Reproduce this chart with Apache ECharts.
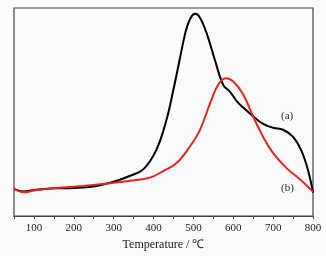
<!DOCTYPE html>
<html>
<head>
<meta charset="utf-8">
<script src="https://cdn.jsdelivr.net/npm/echarts@6/dist/echarts.min.js"></script>
<style>
  html, body { margin: 0; padding: 0; background: #fbfbfb; }
  #main { width: 326px; height: 256px; }
</style>
</head>
<body>
<div id="main"></div>
<script>
// temperatures (℃) and read-off signal (arbitrary units)
var tempA = [50, 75, 100, 150, 200, 250, 300, 340, 375, 407, 432, 449, 466, 480, 492, 505, 518, 535, 553, 575, 591, 608, 625, 650, 675, 700, 725, 750, 770, 787, 800];
var sigA  = [27.7, 25, 26.7, 28.3, 28.7, 30.3, 35, 41, 48, 67.7, 97.7, 127.7, 161, 188, 202, 207, 202, 185, 161, 134, 127.7, 118, 111, 102, 94.3, 90.3, 88.3, 81, 67.7, 47.7, 24];
var tempB = [50, 75, 100, 150, 200, 250, 300, 341, 391, 424, 458, 491, 516, 541, 562, 581, 600, 625, 650, 675, 700, 733, 767, 800];
var sigB  = [27.7, 24.3, 26, 28.3, 30, 31.7, 34, 36, 39.3, 46, 54.3, 71, 87.7, 114.3, 134.3, 141, 137.7, 124.3, 101.7, 81, 64.3, 49.3, 37.7, 25];

function pairs(xs, ys) {
  var out = [];
  for (var i = 0; i < xs.length; i++) out.push([xs[i], ys[i]]);
  return out;
}

var chart = echarts.init(document.getElementById('main'));
var serif = 'Liberation Serif';

var option = {
  backgroundColor: '#fbfbfb',
  animation: false,
  grid: { left: 14, right: 13, top: 8, bottom: 35, show: true, borderColor: '#444', borderWidth: 1.2 },
  xAxis: {
    type: 'value',
    min: 50,
    max: 800,
    interval: 50,
    name: 'Temperature / ℃',
    nameLocation: 'middle',
    nameGap: 23,
    nameTextStyle: { fontFamily: serif, fontSize: 12, color: '#222' },
    axisLine: { lineStyle: { color: '#444', width: 1.2 } },
    axisTick: { length: 3, lineStyle: { color: '#444' } },
    axisLabel: {
      fontFamily: serif, fontSize: 11, color: '#222', margin: 7,
      formatter: function (v) { return v % 100 === 0 ? String(v) : ''; }
    },
    splitLine: { show: false }
  },
  yAxis: {
    type: 'value',
    min: 0,
    max: 213,
    axisLine: { show: false },
    axisTick: { show: false },
    axisLabel: { show: false },
    splitLine: { show: false }
  },
  series: [
    {
      name: '(a)', type: 'line', smooth: 0.4, symbol: 'none',
      data: pairs(tempA, sigA),
      lineStyle: { color: '#000', width: 2 }
    },
    {
      name: '(b)', type: 'line', smooth: 0.4, symbol: 'none',
      data: pairs(tempB, sigB),
      lineStyle: { color: '#e42420', width: 2 }
    }
  ],
  graphic: [
    { type: 'text', left: 281, top: 111, style: { text: '(a)', font: '11px "Liberation Serif"', fill: '#222' } },
    { type: 'text', left: 281, top: 183, style: { text: '(b)', font: '11px "Liberation Serif"', fill: '#222' } }
  ]
};

chart.setOption(option);
</script>
</body>
</html>
